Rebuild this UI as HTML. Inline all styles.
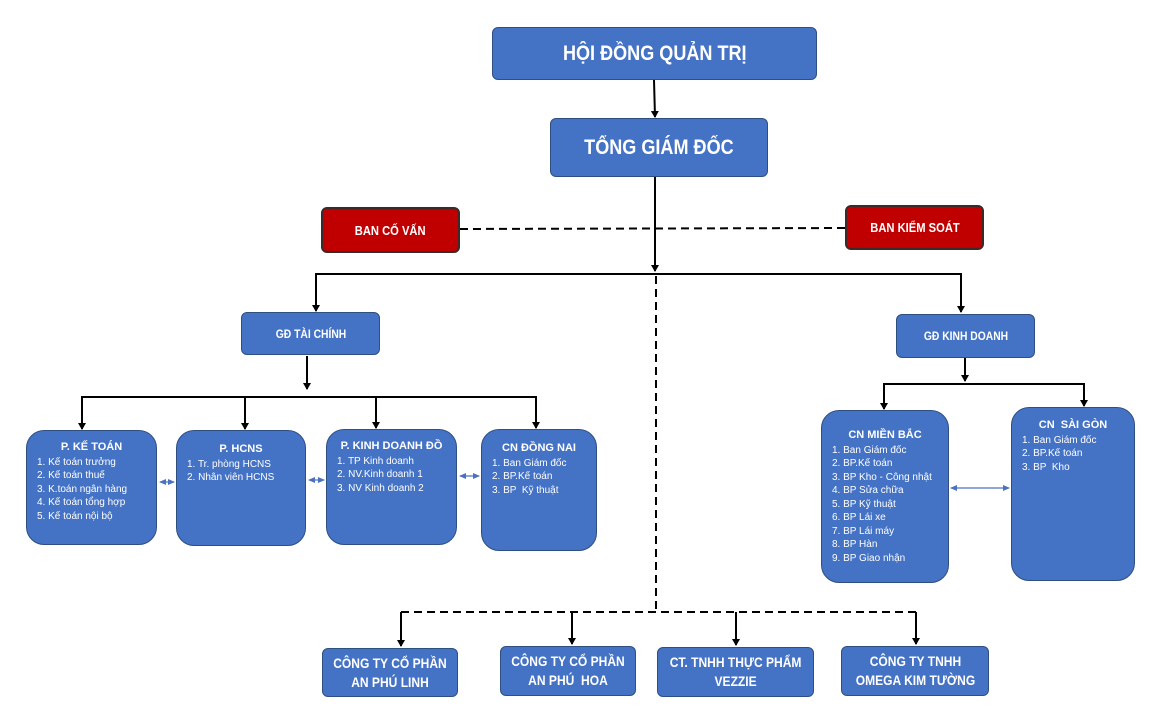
<!DOCTYPE html>
<html><head><meta charset="utf-8"><style>
body{margin:0;width:1174px;height:717px;background:#fff;position:relative;overflow:hidden;font-family:"Liberation Sans Narrow","Liberation Sans",sans-serif;color:#fff}
.b{position:absolute;box-sizing:border-box;background:#4472C4;border:1.5px solid #2F4F80;border-radius:6px;display:flex;align-items:center;justify-content:center;text-align:center;font-weight:bold}
.b span{display:inline-block;transform:scaleX(.86);white-space:nowrap}
.r{background:#C00000;border:2px solid #3a2a2a}
.t{position:absolute;box-sizing:border-box;background:#4472C4;border:1.5px solid #2F4F80;border-radius:18px;font-size:10px;line-height:13.5px;padding:10px 0 0 10px}
.t h{display:block;text-align:center;font-weight:bold;font-size:11px;margin-left:-10px;margin-bottom:1px}
svg{position:absolute;left:0;top:0}
</style></head><body>
<svg width="1174" height="717">
<defs>
<marker id="a" markerWidth="8" markerHeight="8" refX="6" refY="4" orient="auto" markerUnits="userSpaceOnUse"><path d="M0,0 L7,4 L0,8z" fill="#000"/></marker>
<marker id="s" markerWidth="8" markerHeight="8" refX="6" refY="4" orient="auto-start-reverse" markerUnits="userSpaceOnUse"><path d="M0,1 L7,4 L0,7z" fill="#4A72C0"/></marker>
</defs>
<g stroke="#000" stroke-width="2" fill="none">
<line x1="654" y1="80" x2="655" y2="117" marker-end="url(#a)"/>
<line x1="655" y1="177" x2="655" y2="271" marker-end="url(#a)"/>
<line x1="460" y1="229" x2="845" y2="228" stroke-dasharray="8,5"/>
<polyline points="316,311 316,274 961,274 961,312" marker-end="url(#a)"/>
<line x1="316" y1="274" x2="316" y2="311" marker-end="url(#a)"/>
<line x1="656" y1="276" x2="656" y2="612" stroke-dasharray="8,5"/>
<line x1="401" y1="612" x2="916" y2="612" stroke-dasharray="8,5"/>
<line x1="401" y1="612" x2="401" y2="646" marker-end="url(#a)"/>
<line x1="572" y1="612" x2="572" y2="644" marker-end="url(#a)"/>
<line x1="736" y1="612" x2="736" y2="645" marker-end="url(#a)"/>
<line x1="916" y1="612" x2="916" y2="644" marker-end="url(#a)"/>
<line x1="307" y1="356" x2="307" y2="389" marker-end="url(#a)"/>
<polyline points="82,429 82,397 536,397 536,428" marker-end="url(#a)"/>
<line x1="82" y1="397" x2="82" y2="429" marker-end="url(#a)"/>
<line x1="245" y1="397" x2="245" y2="429" marker-end="url(#a)"/>
<line x1="376" y1="397" x2="376" y2="428" marker-end="url(#a)"/>
<line x1="965" y1="358" x2="965" y2="381" marker-end="url(#a)"/>
<polyline points="884,409 884,384 1084,384 1084,406" marker-end="url(#a)"/>
<line x1="884" y1="384" x2="884" y2="409" marker-end="url(#a)"/>
</g>
<g stroke="#4A72C0" stroke-width="1.2">
<line x1="160" y1="482" x2="174" y2="482" marker-start="url(#s)" marker-end="url(#s)"/>
<line x1="309" y1="480" x2="324" y2="480" marker-start="url(#s)" marker-end="url(#s)"/>
<line x1="460" y1="476" x2="479" y2="476" marker-start="url(#s)" marker-end="url(#s)"/>
<line x1="951" y1="488" x2="1009" y2="488" marker-start="url(#s)" marker-end="url(#s)"/>
</g>
</svg>
<div class="b" style="left:492px;top:27px;width:325px;height:53px;font-size:21px"><span>HỘI ĐỒNG QUẢN TRỊ</span></div>
<div class="b" style="left:550px;top:118px;width:218px;height:59px;font-size:21px"><span>TỔNG GIÁM ĐỐC</span></div>
<div class="b r" style="left:321px;top:207px;width:139px;height:46px;font-size:13px"><span>BAN CỐ VẤN</span></div>
<div class="b r" style="left:845px;top:205px;width:139px;height:45px;font-size:13px"><span>BAN KIỂM SOÁT</span></div>
<div class="b" style="left:241px;top:312px;width:139px;height:43px;font-size:12px"><span>GĐ TÀI CHÍNH</span></div>
<div class="b" style="left:896px;top:314px;width:139px;height:44px;font-size:12px"><span>GĐ KINH DOANH</span></div>
<div class="t" style="left:26px;top:430px;width:131px;height:115px"><h>P. KẾ TOÁN</h>1. Kế toán trưởng<br>2. Kế toán thuế<br>3. K.toán ngân hàng<br>4. Kế toán tổng hợp<br>5. Kế toán nội bộ</div>
<div class="t" style="left:176px;top:430px;width:130px;height:116px;padding-top:12px"><h>P. HCNS</h>1. Tr. phòng HCNS<br>2. Nhân viên HCNS</div>
<div class="t" style="left:326px;top:429px;width:131px;height:116px"><h>P. KINH DOANH ĐỒ</h>1. TP Kinh doanh<br>2. NV.Kinh doanh 1<br>3. NV Kinh doanh 2</div>
<div class="t" style="left:481px;top:429px;width:116px;height:122px;padding-top:12px"><h>CN ĐỒNG NAI</h>1. Ban Giám đốc<br>2. BP.Kế toán<br>3. BP &nbsp;Kỹ thuật</div>
<div class="t" style="left:821px;top:410px;width:128px;height:173px;padding-top:18px"><h>CN MIỀN BẮC</h>1. Ban Giám đốc<br>2. BP.Kế toán<br>3. BP Kho - Công nhật<br>4. BP Sửa chữa<br>5. BP Kỹ thuật<br>6. BP Lái xe<br>7. BP Lái máy<br>8. BP Hàn<br>9. BP Giao nhận</div>
<div class="t" style="left:1011px;top:407px;width:124px;height:174px;padding-top:11px"><h>CN &nbsp;SÀI GÒN</h>1. Ban Giám đốc<br>2. BP.Kế toán<br>3. BP &nbsp;Kho</div>
<div class="b" style="left:322px;top:648px;width:136px;height:49px;font-size:14px;line-height:19px"><span>CÔNG TY CỔ PHẦN<br>AN PHÚ LINH</span></div>
<div class="b" style="left:500px;top:646px;width:136px;height:50px;font-size:14px;line-height:19px"><span>CÔNG TY CỔ PHẦN<br>AN PHÚ &nbsp;HOA</span></div>
<div class="b" style="left:657px;top:647px;width:157px;height:50px;font-size:14px;line-height:19px"><span>CT. TNHH THỰC PHẨM<br>VEZZIE</span></div>
<div class="b" style="left:841px;top:646px;width:148px;height:50px;font-size:14px;line-height:19px"><span>CÔNG TY TNHH<br>OMEGA KIM TƯỜNG</span></div>
</body></html>
